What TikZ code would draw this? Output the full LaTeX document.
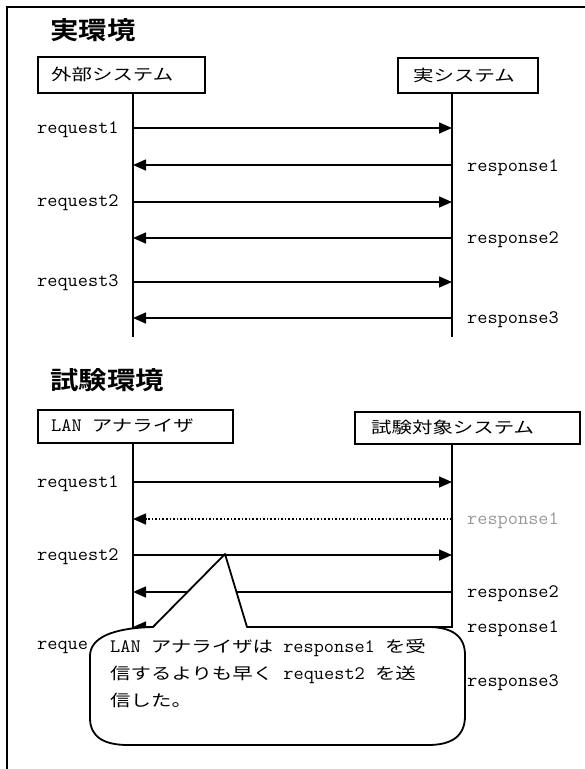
\documentclass[tikz,border=0pt]{standalone}
\usepackage{fontspec}
\usepackage{graphicx}
\usetikzlibrary{arrows.meta}
\newfontfamily\jp{Noto Sans CJK JP}[Scale=1.03,BoldFont={Noto Sans CJK JP Bold}]
\newcommand\jt[1]{{\jp\scalebox{1.28}[1]{#1}}}
\newcommand\titlesc[1]{\scalebox{1.15}[1]{#1}}
\newcommand\mt[1]{{\fontsize{19}{27}\selectfont\ttfamily\scalebox{1.04}[1]{#1}}}
\begin{document}
\begin{tikzpicture}[x=1pt,y=-1pt,
  every node/.style={font=\fontsize{15.5}{27}\selectfont, inner sep=0pt},
  frameline/.style={line width=1.5pt},
  boxst/.style={draw, line width=1.8pt, anchor=north west, fill=white},
  lifeline/.style={line width=1.8pt},
  msg/.style={line width=1.6pt, -{Triangle[length=13pt,width=11pt]}},
  lostmsg/.style={line width=1.6pt, dotted, -{Triangle[length=13pt,width=11pt]}},
  lbl/.style={anchor=west},
  title/.style={anchor=west, font=\fontsize{24}{28}\selectfont},
  bubble/.style={draw, line width=1.8pt, fill=white, line join=round}
]
\useasboundingbox (0,0) rectangle (585,769);
% outer frame (clipped on right and bottom)
\draw[frameline] (7,769) -- (7,7) -- (585,7);

% ===== 実環境 =====
\node[title] (T1) at (50,30) {\titlesc{\jp\bfseries 実環境}};
\node[boxst, minimum width=167pt, minimum height=36pt] (A1) at (37,56) {};
\node[lbl] (A1t) at (51,74) {\jt{外部システム}};
\node[boxst, minimum width=140pt, minimum height=35pt] (B1) at (397,57) {};
\node[lbl] (B1t) at (413,75) {\jt{実システム}};

\coordinate (L1a) at (133,92);  \coordinate (L1b) at (133,337);
\coordinate (R1a) at (452,92);  \coordinate (R1b) at (452,337);
\draw[lifeline] (L1a) -- (L1b);
\draw[lifeline] (R1a) -- (R1b);

\foreach \n/\y in {1/128,2/165,3/202,4/238,5/282,6/318}{
  \coordinate (p\n l) at (133,\y);
  \coordinate (p\n r) at (452,\y);
}
\draw[msg] (p1l) -- (p1r);
\draw[msg] (p2r) -- (p2l);
\draw[msg] (p3l) -- (p3r);
\draw[msg] (p4r) -- (p4l);
\draw[msg] (p5l) -- (p5r);
\draw[msg] (p6r) -- (p6l);

\node[lbl] (q1) at (37,130) {\mt{request1}};
\node[lbl] (s1) at (467,168) {\mt{response1}};
\node[lbl] (q2) at (37,203) {\mt{request2}};
\node[lbl] (s2) at (467,240) {\mt{response2}};
\node[lbl] (q3) at (37,283) {\mt{request3}};
\node[lbl] (s3) at (467,320) {\mt{response3}};

% ===== 試験環境 =====
\node[title] (T2) at (50,380) {\titlesc{\jp\bfseries 試験環境}};
\node[boxst, minimum width=195pt, minimum height=33pt] (A2) at (37,409) {};
\node[lbl] (A2t) at (51,426) {\mt{LAN }\jt{アナライザ}};
\node[boxst, minimum width=225pt, minimum height=32pt] (B2) at (354,411) {};
\node[lbl] (B2t) at (371,427) {\jt{試験対象システム}};

\coordinate (L2a) at (133,442);  \coordinate (L2b) at (133,628);
\coordinate (R2a) at (452,443);  \coordinate (R2b) at (452,628);
\draw[lifeline] (L2a) -- (L2b);
\draw[lifeline] (R2a) -- (R2b);

\foreach \n/\y in {1/482,2/519,3/555,4/592,5/627}{
  \coordinate (u\n l) at (133,\y);
  \coordinate (u\n r) at (452,\y);
}
\draw[msg] (u1l) -- (u1r);
\draw[lostmsg] (u2r) -- (u2l);
\draw[msg] (u3l) -- (u3r);
\draw[msg] (u4r) -- (u4l);
\draw[msg] (u5r) -- (u5l);

\node[lbl] (v1) at (37,484) {\mt{request1}};
\node[lbl, text=black!40] (w1) at (467,521) {\mt{response1}};
\node[lbl] (v2) at (37,557) {\mt{request2}};
\node[lbl] (w2) at (467,594) {\mt{response2}};
\node[lbl] (w3) at (467,629) {\mt{response1}};
\node[lbl] (v3) at (37,647) {\mt{reque}};
\node[lbl] (w4) at (467,683) {\mt{response3}};

% ===== callout =====
\coordinate (tip) at (225,554);
\draw[bubble] (153,627) -- (tip) -- (247,627) -- (428,627)
  .. controls (452,627) and (465,636) .. (465,655)
  -- (465,716)
  .. controls (465,736) and (452,745) .. (428,745)
  -- (128,745)
  .. controls (104,745) and (90,737) .. (90,718)
  -- (90,656)
  .. controls (90,638) and (112,628) .. (153,627) -- cycle;

\node[anchor=base west] (n1) at (110,652) {\mt{LAN }\jt{アナライザは}\mt{ response1 }\jt{を受}};
\node[anchor=base west] (n2) at (110,679) {\jt{信するよりも早く}\mt{ request2 }\jt{を送}};
\node[anchor=base west] (n3) at (110,706) {\jt{信した。}};
\end{tikzpicture}
\end{document}
